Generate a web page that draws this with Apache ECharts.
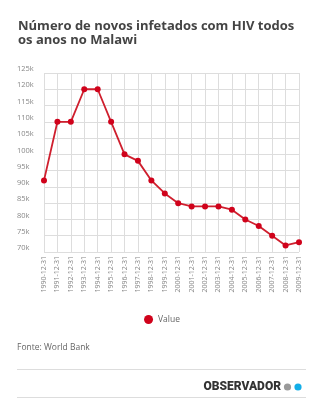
<!DOCTYPE html>
<html><head><meta charset="utf-8">
<script src="https://cdn.jsdelivr.net/npm/echarts@6/dist/echarts.min.js"></script>
<style>html,body{margin:0;padding:0;background:#fff;}#c{width:324px;height:400px;}</style>
</head><body><div id="c"></div>
<script>
const categories = ['1990-12-31','1991-12-31','1992-12-31','1993-12-31','1994-12-31','1995-12-31','1996-12-31','1997-12-31','1998-12-31','1999-12-31','2000-12-31','2001-12-31','2002-12-31','2003-12-31','2004-12-31','2005-12-31','2006-12-31','2007-12-31','2008-12-31','2009-12-31'];
const values = [92000,110000,110000,120000,120000,110000,100000,98000,92000,88000,85000,84000,84000,84000,83000,80000,78000,75000,72000,73000];
const seriesName = 'Value';
const titleText = 'Número de novos infetados com HIV todos\nos anos no Malawi';
const sourceText = 'Fonte: World Bank';
const brandText = 'OBSERVADOR';

const chart = echarts.init(document.getElementById('c'), null, {renderer:'canvas'});
chart.setOption({
  animation:false,
  backgroundColor:'#fff',
  textStyle:{fontFamily:'Open Sans'},
  title:{text:titleText,left:13,top:14,textStyle:{fontFamily:'Open Sans',fontWeight:'bold',fontSize:13,lineHeight:14,color:'#444'}},
  grid:{left:44,right:25,top:73,bottom:148,containLabel:false},
  legend:{data:[{name:seriesName,icon:'circle'}],left:'center',top:310,itemWidth:9,itemHeight:9,itemGap:6,textStyle:{fontSize:8.5,color:'#666',fontFamily:'Open Sans'}},
  xAxis:{type:'category',data:categories,boundaryGap:false,
    axisLine:{show:false},axisTick:{show:false},
    splitLine:{show:true,lineStyle:{color:'#ddd',width:1}},
    axisLabel:{rotate:90,fontSize:7,color:'#888',margin:4,interval:0,fontFamily:'Open Sans'}},
  yAxis:{type:'value',min:70000,max:125000,interval:5000,
    axisLine:{show:false},axisTick:{show:false},
    splitLine:{lineStyle:{color:'#ddd',width:1}},
    axisLabel:{align:'left',verticalAlign:'bottom',margin:27,fontSize:7.5,color:'#888',fontFamily:'Open Sans',
      formatter:v=>(v/1000)+'k'}},
  series:[{name:seriesName,type:'line',data:values,symbol:'circle',symbolSize:6,
    lineStyle:{color:'#cf1f2e',width:1.8},itemStyle:{color:'#d0021b'}}],
  graphic:[
    {type:'text',left:17,top:343,style:{text:sourceText,fontSize:8.5,fill:'#666',fontFamily:'Open Sans'}},
    {type:'line',shape:{x1:17,y1:369.5,x2:306,y2:369.5},style:{stroke:'#ddd',lineWidth:1}},
    {type:'line',shape:{x1:17,y1:397.5,x2:306,y2:397.5},style:{stroke:'#ddd',lineWidth:1}},
    {type:'text',x:281,y:387,style:{text:brandText,fontSize:12,fontWeight:900,fill:'#333',align:'right',verticalAlign:'middle',fontFamily:'Roboto'}},
    {type:'circle',shape:{cx:287.5,cy:387,r:3.6},style:{fill:'#9a9a9a'}},
    {type:'circle',shape:{cx:298,cy:387,r:3.6},style:{fill:'#12aee8'}}
  ]
});
</script></body></html>
